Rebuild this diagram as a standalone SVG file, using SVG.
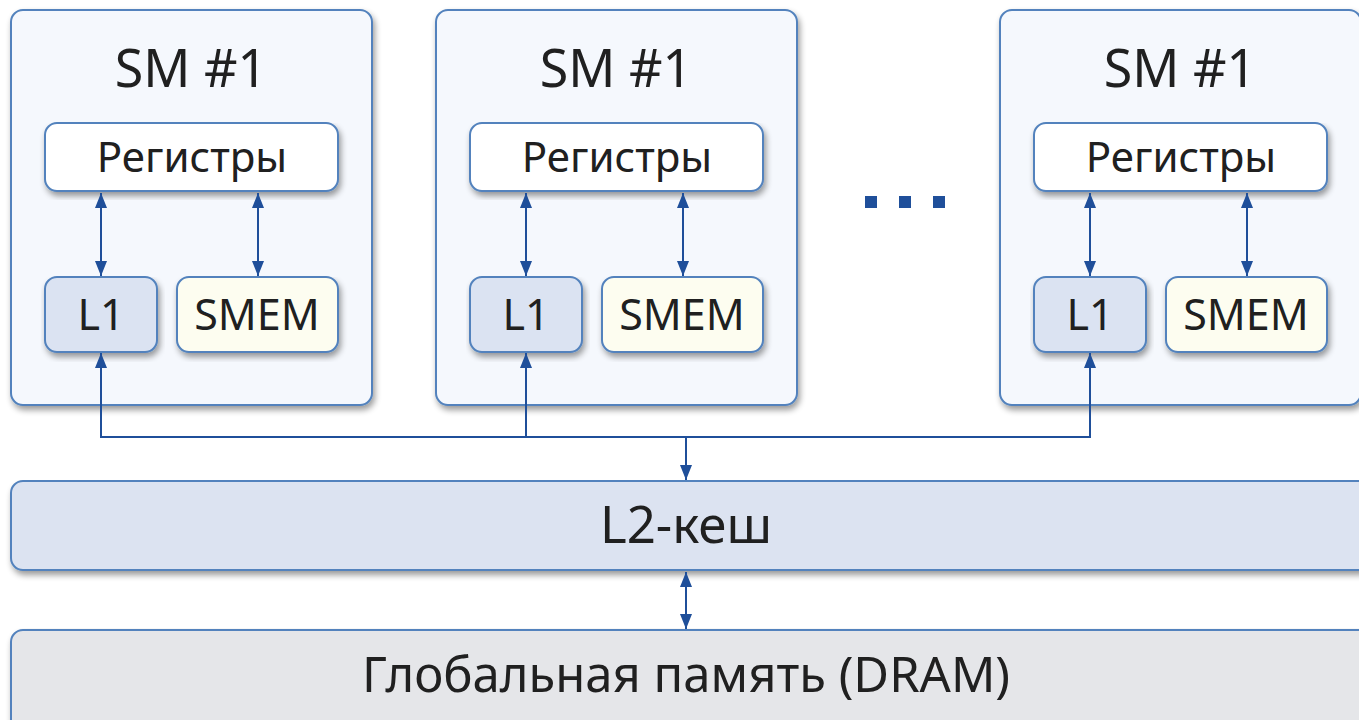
<svg xmlns="http://www.w3.org/2000/svg" width="1359" height="720" viewBox="0 0 1359 720">
  <defs>
    <filter id="shadow" x="-5%" y="-5%" width="112%" height="118%">
      <feGaussianBlur in="SourceAlpha" stdDeviation="3"/>
      <feOffset dx="2" dy="4" result="b"/>
      <feComponentTransfer><feFuncA type="linear" slope="0.4"/></feComponentTransfer>
      <feMerge><feMergeNode/><feMergeNode in="SourceGraphic"/></feMerge>
    </filter>
    <marker id="arr" viewBox="0 0 15 12" refX="15" refY="6" markerWidth="15" markerHeight="12" markerUnits="userSpaceOnUse" orient="auto-start-reverse">
      <path d="M0,0 L15,6 L0,12 Z" fill="#1f4f9a"/>
    </marker>
    <g id="sm">
      <rect x="11" y="10" width="361" height="395" rx="12" class="sm"/>
      <text x="191" y="87" class="t52">SM #1</text>
      <rect x="45" y="123" width="293" height="68" rx="12" class="reg"/>
      <text x="192" y="172" class="t42">Регистры</text>
      <rect x="45" y="277" width="112" height="75" rx="12" class="l1"/>
      <text x="101" y="330" class="t43">L1</text>
      <rect x="177" y="277" width="161" height="75" rx="12" class="smem"/>
      <text x="257" y="330" class="t43">SMEM</text>
      <line x1="101" y1="193" x2="101" y2="276" class="ln" marker-start="url(#arr)" marker-end="url(#arr)"/>
      <line x1="258" y1="193" x2="258" y2="276" class="ln" marker-start="url(#arr)" marker-end="url(#arr)"/>
    </g>
  </defs>
  <style>
    .sm { fill: #f5f8fd; stroke: #5282bd; stroke-width: 2; filter: url(#shadow); }
    .reg { fill: #ffffff; stroke: #5282bd; stroke-width: 2; filter: url(#shadow); }
    .l1 { fill: #dbe3f2; stroke: #5282bd; stroke-width: 2; filter: url(#shadow); }
    .smem { fill: #fdfdf0; stroke: #5282bd; stroke-width: 2; filter: url(#shadow); }
    .l2 { fill: #dce3f1; stroke: #5282bd; stroke-width: 2; filter: url(#shadow); }
    .dram { fill: #e5e6e9; stroke: #5282bd; stroke-width: 2; filter: url(#shadow); }
    .ln { stroke: #1f4f9a; stroke-width: 2; fill: none; }
    text { font-family: "Noto Sans", "Open Sans", sans-serif; fill: #202020; text-anchor: middle; }
    .t52 { font-size: 52px; }
    .t51 { font-size: 51px; }
    .t49 { font-size: 49px; }
    .t43 { font-size: 43px; }
    .t42 { font-size: 42px; }
    .dot { fill: #1f4f9a; }
  </style>

  <!-- streaming multiprocessors -->
  <g id="sm-a"><use href="#sm"/></g>
  <g id="sm-b"><use href="#sm" transform="translate(425,0)"/></g>
  <g id="ellipsis">
    <rect x="865" y="196" width="12" height="12" class="dot"/>
    <rect x="899" y="196" width="12" height="12" class="dot"/>
    <rect x="933" y="196" width="12" height="12" class="dot"/>
  </g>
  <g id="sm-c"><use href="#sm" transform="translate(989,0)"/></g>

  <!-- shared levels -->
  <g id="l2">
    <rect x="11" y="481" width="1360" height="89" rx="12" class="l2"/>
    <text x="686" y="543" class="t51">L2-кеш</text>
  </g>
  <g id="dram">
    <rect x="11" y="630" width="1360" height="110" rx="12" class="dram"/>
    <text x="686" y="692" class="t49">Глобальная память (DRAM)</text>
  </g>

  <!-- connectors -->
  <g id="connectors">
    <line x1="101" y1="437" x2="101" y2="353" class="ln" marker-end="url(#arr)"/>
    <line x1="526" y1="437" x2="526" y2="353" class="ln" marker-end="url(#arr)"/>
    <line x1="1090" y1="437" x2="1090" y2="353" class="ln" marker-end="url(#arr)"/>
    <line x1="100" y1="437" x2="1091" y2="437" class="ln"/>
    <line x1="686" y1="437" x2="686" y2="480" class="ln" marker-end="url(#arr)"/>
    <line x1="686" y1="572" x2="686" y2="629" class="ln" marker-start="url(#arr)" marker-end="url(#arr)"/>
  </g>
</svg>
